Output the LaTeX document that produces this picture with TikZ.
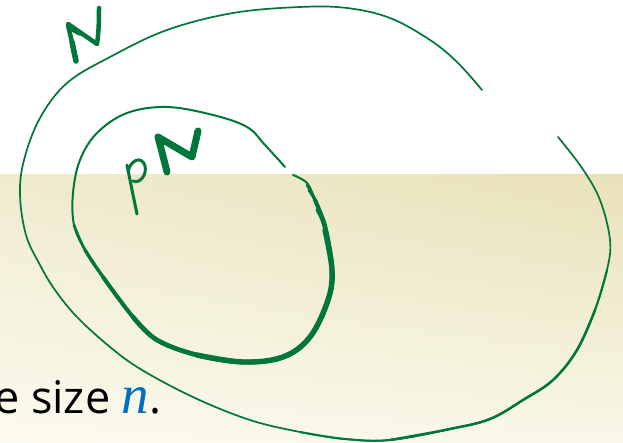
\documentclass[tikz,border=0pt]{standalone}
\usepackage{fontspec}
\setmainfont{Open Sans}
\newfontfamily\nfont{Liberation Serif}
\usetikzlibrary{shadings}
\definecolor{ink}{RGB}{0,118,58}
\definecolor{nblue}{RGB}{0,112,192}
\definecolor{bgUL}{RGB}{240,235,207}
\definecolor{bgUR}{RGB}{232,225,184}
\definecolor{bgLL}{RGB}{251,250,238}
\definecolor{bgLR}{RGB}{249,247,232}
\begin{document}
\begin{tikzpicture}[x=1pt,y=-1pt,
  pen/.style={draw=ink,line cap=round,line join=round},
  thin pen/.style={pen,line width=1.7pt},
  label pen/.style={pen,line width=4.5pt}]
\useasboundingbox (0,0) rectangle (623,443);
\fill[white] (0,0) rectangle (623,175);
\shade[upper left=bgUL,upper right=bgUR,lower left=bgLL,lower right=bgLR] (0,175) rectangle (623,443);

% outer loop
\draw[thin pen] plot[smooth,tension=0.6] coordinates {(482,90) (457,62) (430,40) (390,18) (347,8) (300,7) (233,13) (167,30) (110,57) (67,83) (40,118) (24,160) (20,195) (26,235) (40,265) (55,290) (77,317) (110,347) (142,370) (195,398) (250,420) (300,432) (345,439) (390,440) (450,429) (490,419) (523,400) (553,380) (577,350) (595,310) (607,270) (610,240) (600,200) (582,168) (558,137)};
\draw[pen,line width=2.0pt] plot[smooth,tension=0.6] coordinates {(300,432) (345,439) (390,440) (450,429) (490,419) (523,400) (553,380) (577,350) (595,310) (607,270)};
\draw[pen,line width=2.4pt] plot[smooth,tension=0.6] coordinates {(390,440) (450,429) (490,419) (523,400) (553,380) (577,350) (595,310)};

% inner loop
\draw[pen,line width=2pt] plot[smooth,tension=0.6] coordinates {(285,167) (265,145) (247,127) (213,115) (167,107) (127,113) (97,133) (80,160) (73,193) (74,225) (85,250) (103,277) (133,317) (157,340) (197,355) (243,362) (283,357) (310,337) (328,300) (332,270) (325,227) (315,200) (307,183) (293,175)};
\draw[pen,line width=2.6pt] plot[smooth,tension=0.6] coordinates {(74,225) (85,250) (103,277) (133,317) (157,340) (197,355) (243,362) (283,357) (310,337) (328,300) (332,270) (325,227) (315,200) (307,185)};
\draw[pen,line width=3.3pt] plot[smooth,tension=0.6] coordinates {(85,250) (103,277) (133,317) (157,340) (197,355) (243,362) (283,357) (310,337) (328,300) (332,270) (325,227) (315,200) (309,190)};
\draw[pen,line width=4.0pt] plot[smooth,tension=0.6] coordinates {(103,277) (133,317) (157,340) (197,355) (243,362) (283,357) (310,337) (328,300) (332,270) (325,227) (315,200)};
\draw[pen,line width=4.7pt] plot[smooth,tension=0.6] coordinates {(133,317) (157,340) (197,355) (243,362) (283,357) (310,337) (328,300) (332,270) (325,227) (318,210)};
\draw[pen,line width=5.4pt] plot[smooth,tension=0.6] coordinates {(197,355) (243,362) (283,357) (310,337) (328,300) (332,270) (325,230)};

% label N
\draw[label pen] (76,61) .. controls (73,45) and (70,35) .. (68,24) -- (97,44) .. controls (99,30) and (99,18) .. (99,8);
\draw[pen,line width=5.5pt] (76,61) .. controls (74,52) .. (72,42);
\draw[pen,line width=5.5pt] (69,27) -- (80,33);

% label pN
\draw[pen,line width=3pt] (137,214) .. controls (133,195) and (130,180) .. (127,165);
\draw[pen,line width=3pt] (128,172) .. controls (130,160) and (142,155) .. (145,166) .. controls (147,175) and (140,184) .. (133,181);
\draw[pen,line width=7pt] (167,172) .. controls (164,160) and (161,148) .. (158,137) -- (192,157) .. controls (194,148) and (196,140) .. (198,131);

% text
\node[anchor=base west,inner sep=0pt,font=\fontsize{45}{50}\selectfont] (txt) at (-6,413) {e size \textcolor{nblue}{\nfont\itshape\fontsize{55}{55}\selectfont n}.};
\end{tikzpicture}
\end{document}
